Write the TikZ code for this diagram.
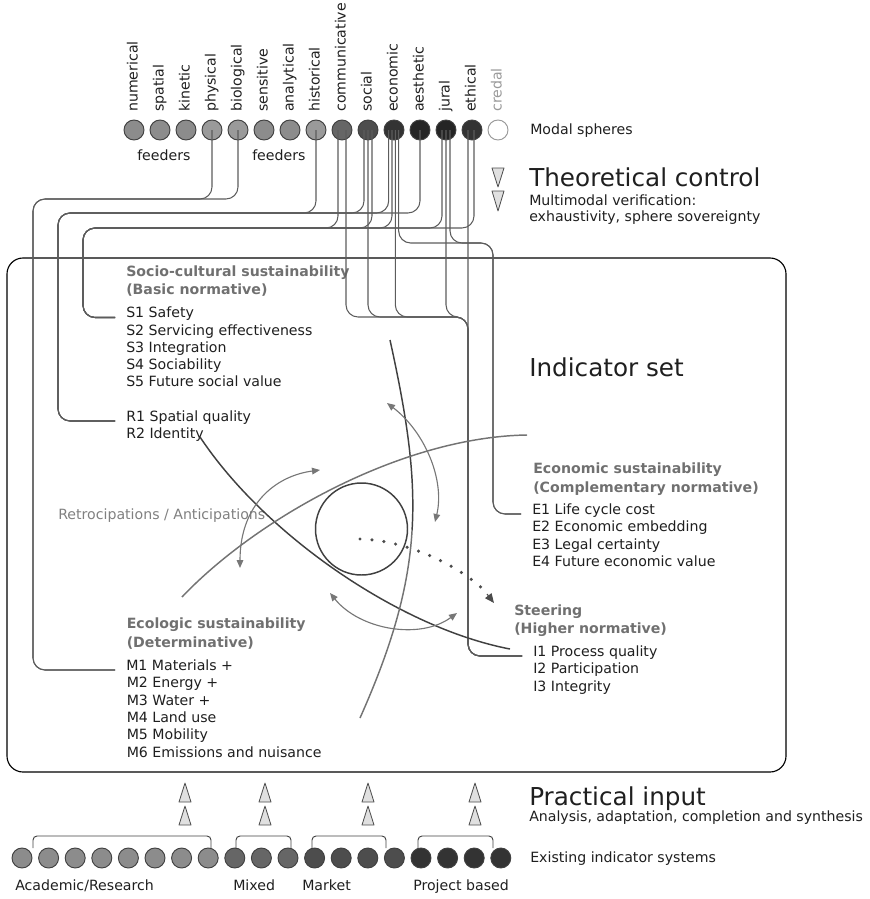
\documentclass[tikz,border=0pt]{standalone}
\usepackage{fontspec}
\setmainfont{DejaVu Sans}
\usetikzlibrary{arrows.meta}
\definecolor{ga}{HTML}{8C8C8C}
\definecolor{gb}{HTML}{9A9A9A}
\definecolor{gc}{HTML}{666666}
\definecolor{gd}{HTML}{4D4D4D}
\definecolor{ge}{HTML}{333333}
\definecolor{gf}{HTML}{252525}
\definecolor{linec}{HTML}{5C5C5C}
\definecolor{headc}{HTML}{707070}
\definecolor{arrc}{HTML}{777777}
\begin{document}
\begin{tikzpicture}[x=0.75pt,y=-0.75pt,
  sph/.style={circle, draw=black!75, line width=0.7pt, minimum size=15pt, inner sep=0pt},
  conn/.style={draw=linec, line width=0.8pt, rounded corners=9pt},
  txt/.style={font=\fontsize{10.6}{12.9}\selectfont, text=black!88, inner sep=0pt, anchor=base west},
  item/.style={txt, inner xsep=8.25pt},
  head/.style={txt, font=\fontsize{10.6}{12.9}\selectfont\bfseries, text=headc},
  big/.style={txt, font=\fontsize{18.5}{22}\selectfont},
  vlbl/.style={txt, rotate=90, anchor=mid west},
  tri/.style={draw=black!70, fill=black!12, line width=0.6pt, line join=round},
  darc/.style={draw=black!75, line width=1.1pt},
  garc/.style={draw=black!55, line width=1.1pt},
  darr/.style={draw=arrc, line width=0.85pt, arrows={Triangle[length=6pt,width=5pt]-Triangle[length=6pt,width=5pt]}},
  brk/.style={draw=black!75, line width=0.7pt, rounded corners=3pt}]
\useasboundingbox (0,0) rectangle (869,899);

% main frame
\draw[line width=0.85pt, rounded corners=12pt] (7,258) rectangle (786,772);

% modal spheres
\foreach \n/\x/\c in {numerical/134/ga, spatial/160/ga, kinetic/186/ga, physical/212/gb,
  biological/238/gb, sensitive/264/ga, analytical/290/ga, historical/316/gb,
  communicative/342/gc, social/368/gd, economic/394/ge, aesthetic/420/gf,
  jural/446/gf, ethical/472/ge}{
  \node[sph, fill=\c] (\n) at (\x,130) {};
  \node[vlbl] (l-\n) at (\x,112) {\n};
}
\node[sph, draw=black!40, fill=white] (credal) at (498,130) {};
\node[vlbl, text=black!40] (l-credal) at (498,112) {credal};
\node[txt] (modal) at (530,134) {Modal spheres};
\node[txt] (feed1) at (137,160) {feeders};
\node[txt] (feed2) at (252,160) {feeders};

% theoretical control
\draw[tri] (492,168) -- (504,168) -- (498,187) -- cycle;
\draw[tri] (492,191) -- (504,191) -- (498,211) -- cycle;
\node[big] (theo) at (529,186.5) {Theoretical control};
\node[txt] (multi) at (529,205.5) {Multimodal verification:};
\node[txt] (exha) at (529,221.5) {exhaustivity, sphere sovereignty};
\node[big] (indset) at (529,376.5) {Indicator set};

% socio-cultural block
\node[head] (sochead) at (126,276) {Socio-cultural sustainability};
\node[head] (sochead2) at (126,294.5) {(Basic normative)};
\node[item] (s1) at (115,317.5) {S1 Safety};
\node[txt] (s2) at (126,335) {S2 Servicing effectiveness};
\node[txt] (s3) at (126,352) {S3 Integration};
\node[txt] (s4) at (126,369) {S4 Sociability};
\node[txt] (s5) at (126,386) {S5 Future social value};
\node[item] (r1) at (115,421) {R1 Spatial quality};
\node[txt] (r2) at (126,438.5) {R2 Identity};

% economic block
\node[head] (ecohead) at (533,473) {Economic sustainability};
\node[head] (ecohead2) at (533,492) {(Complementary normative)};
\node[item] (e1) at (521,514) {E1 Life cycle cost};
\node[txt] (e2) at (532,531.5) {E2 Economic embedding};
\node[txt] (e3) at (532,549) {E3 Legal certainty};
\node[txt] (e4) at (532,566.5) {E4 Future economic value};

% steering block
\node[head] (sthead) at (514,615) {Steering};
\node[head] (sthead2) at (514,633) {(Higher normative)};
\node[item] (i1) at (522,656) {I1 Process quality};
\node[txt] (i2) at (533,673.5) {I2 Participation};
\node[txt] (i3) at (533,691) {I3 Integrity};

% ecologic block
\node[head] (ecolhead) at (126.5,628) {Ecologic sustainability};
\node[head] (ecolhead2) at (126.5,647) {(Determinative)};
\node[item] (m1) at (115,670) {M1 Materials +};
\node[txt] (m2) at (126.5,687.5) {M2 Energy +};
\node[txt] (m3) at (126.5,705) {M3 Water +};
\node[txt] (m4) at (126.5,722) {M4 Land use};
\node[txt] (m5) at (126.5,739.5) {M5 Mobility};
\node[txt] (m6) at (126.5,757) {M6 Emissions and nuisance};

\node[txt, text=black!50] (retro) at (58,519) {Retrocipations / Anticipations};

% connectors: bus 1 (ecologic)
\draw[conn] (physical.center) |- (33,199) |- (m1.base west);
\draw[conn] (biological.center) |- (33,199) |- (m1.base west);
% bus 2 (spatial quality)
\draw[conn] (historical.center) |- (58,213) |- (r1.base west);
\draw[conn] ([xshift=-3pt]social.center) |- (58,213) |- (r1.base west);
\draw[conn] ([xshift=-4pt]economic.center) |- (58,213) |- (r1.base west);
\draw[conn] (aesthetic.center) |- (58,213) |- (r1.base west);
% bus 3 (socio-cultural)
\draw[conn] ([xshift=-3pt]communicative.center) |- (83,228) |- (s1.base west);
\draw[conn] ([xshift=3pt]social.center) |- (83,228) |- (s1.base west);
\draw[conn] ([xshift=-1.5pt]economic.center) |- (83,228) |- (s1.base west);
\draw[conn] ([xshift=-3pt]jural.center) |- (83,228) |- (s1.base west);
\draw[conn] ([xshift=1.5pt]ethical.center) |- (83,228) |- (s1.base west);
% bus 4 (economic)
\draw[conn] ([xshift=3.5pt]economic.center) |- (493,243) |- (e1.base west);
\draw[conn] ([xshift=3pt]jural.center) |- (493,243) |- (e1.base west);
% bus 5 (steering)
\draw[conn] ([xshift=3pt]communicative.center) |- (468,317) |- (i1.base west);
\draw[conn] (social.center) |- (468,317) |- (i1.base west);
\draw[conn] ([xshift=1pt]economic.center) |- (468,317) |- (i1.base west);
\draw[conn] (jural.center) |- (468,317) |- (i1.base west);
\draw[conn] ([xshift=-3pt]ethical.center) |- (i1.base west);

% central figure
\draw[darc] (200,437) .. controls (265,535) and (400,628) .. (510,649);
\draw[darc] (390,340) .. controls (406.5,415) and (415.5,472.5) .. (412.1,529.75);
\draw[garc] (412.1,529.75) .. controls (408.75,587) and (393,644) .. (360,718);
\draw[garc] (182,597) .. controls (255,520) and (400,437) .. (527,435);
\draw[draw=black!75, line width=1.1pt] (361.5,529) circle (46);
\draw[draw=black!70, line width=2.6pt, line cap=round, dash pattern=on 0pt off 9pt]
  (360,539) .. controls (400,540) and (452,560) .. (484,590);
\draw[draw=black!70, line width=0.8pt, -{Triangle[length=7pt,width=6pt]}] (487,594) -- (494,603);
\draw[darr] (387,403) .. controls (425,432) and (445,480) .. (435,522);
\draw[darr] (320,470) .. controls (275,476) and (240,505) .. (240,568);
\draw[darr] (330,593) .. controls (360,630) and (420,640) .. (457,613);

% practical input
\foreach \x in {185,265,368,475}{
  \draw[tri] (\x-6,802) -- (\x+6,802) -- (\x,783) -- cycle;
  \draw[tri] (\x-6,825) -- (\x+6,825) -- (\x,806) -- cycle;
}
\node[big] (prac) at (529,805) {Practical input};
\node[txt] (anal) at (529,821) {Analysis, adaptation, completion and synthesis};

\draw[brk] (33,848) -- (33,836) -- (211,836) -- (211,848);
\draw[brk] (236,848) -- (236,836) -- (291,836) -- (291,848);
\draw[brk] (312,848) -- (312,836) -- (386,836) -- (386,848);
\draw[brk] (418,848) -- (418,836) -- (493,836) -- (493,848);

\foreach \i in {0,...,7}{\node[sph, fill=ga] (b\i) at (22+26.6*\i,858) {};}
\foreach \i in {8,...,10}{\node[sph, fill=gc] (b\i) at (22+26.6*\i,858) {};}
\foreach \i in {11,...,14}{\node[sph, fill=gd] (b\i) at (22+26.6*\i,858) {};}
\foreach \i in {15,...,18}{\node[sph, fill=ge] (b\i) at (22+26.6*\i,858) {};}
\node[txt] (exist) at (530,862) {Existing indicator systems};
\node[txt] (acad) at (15,890) {Academic/Research};
\node[txt] (mixed) at (233,890) {Mixed};
\node[txt] (market) at (302,890) {Market};
\node[txt] (proj) at (413,890) {Project based};
\end{tikzpicture}
\end{document}
